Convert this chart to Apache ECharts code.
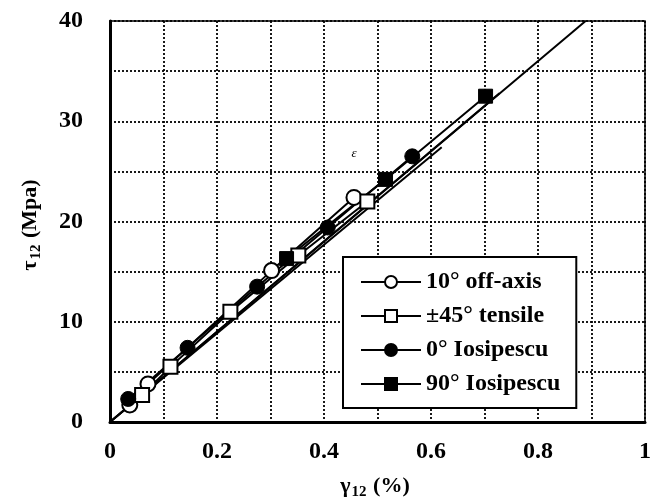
<!DOCTYPE html>
<html><head><meta charset="utf-8">
<script src="https://cdn.jsdelivr.net/npm/echarts@6/dist/echarts.min.js"></script>
<style>html,body{margin:0;padding:0;background:#fff}#c{width:654px;height:499px}</style>
</head><body><div id="c"></div>
<script>
const seriesNames = ['10° off-axis', '±45° tensile', '0° Iosipescu', '90° Iosipescu'];
const offAxisX = [0.037, 0.071, 0.302, 0.456];
const offAxisY = [1.7, 3.8, 15.1, 22.4];
const tensileX = [0.06, 0.113, 0.225, 0.352, 0.481];
const tensileY = [2.7, 5.5, 11.0, 16.6, 22.0];
const iosi0X = [0.034, 0.145, 0.275, 0.407, 0.565];
const iosi0Y = [2.3, 7.4, 13.5, 19.4, 26.5];
const iosi90X = [0.33, 0.515, 0.702];
const iosi90Y = [16.3, 24.2, 32.5];
// straight fit lines from the origin to these end points
const fitEndX = [0.62, 0.728, 0.889];
const fitEndY = [27.4, 32.8, 40];
const xAxisTitle = {sym: 'γ', sub: '12', rest: ' (%)'};
const yAxisTitle = {sym: 'τ', sub: '12', rest: ' (Mpa)'};

const SERIF = 'Liberation Serif';
function pts(xs, ys) { return xs.map((x, i) => [x, ys[i]]); }

const chart = echarts.init(document.getElementById('c'), null, {renderer: 'canvas'});

const fitSeries = fitEndX.map((x, i) => ({
  type: 'line', data: [[0, 0], [x, fitEndY[i]]], showSymbol: false, silent: true,
  lineStyle: {color: '#000', width: 2}, z: 2
}));

function mkSeries(name, xs, ys, symbol, size, filled) {
  return {
    name: name, type: 'line', data: pts(xs, ys), symbol: symbol, symbolSize: size,
    showSymbol: true,
    lineStyle: {color: '#000', width: 2},
    itemStyle: filled ? {color: '#000', borderColor: '#000', borderWidth: 1}
                      : {color: '#fff', borderColor: '#000', borderWidth: 2},
    z: 3
  };
}

const option = {
  animation: false,
  backgroundColor: '#fff',
  grid: {left: 110, right: 4, top: 21, bottom: 77, show: true, borderColor: '#000', borderWidth: 1.5},
  xAxis: {
    type: 'value', min: 0, max: 1, interval: 0.1,
    axisLine: {show: true, lineStyle: {color: '#000', width: 3}},
    axisTick: {show: false},
    splitLine: {show: true, lineStyle: {type: [2, 2], color: '#000', width: 1.8}},
    axisLabel: {
      formatter: v => (Math.round(v * 10) % 2 === 0 ? String(+v.toFixed(1)) : ''),
      fontFamily: SERIF, fontWeight: 'bold', fontSize: 24, color: '#000', margin: 18
    }
  },
  yAxis: {
    type: 'value', min: 0, max: 40, interval: 5,
    axisLine: {show: true, lineStyle: {color: '#000', width: 3}},
    axisTick: {show: false},
    splitLine: {show: true, lineStyle: {type: [2, 2], color: '#000', width: 1.8}},
    axisLabel: {
      formatter: v => (Math.round(v) % 10 === 0 ? String(Math.round(v)) : ''),
      fontFamily: SERIF, fontWeight: 'bold', fontSize: 24, color: '#000', margin: 27
    }
  },
  legend: {
    data: seriesNames, orient: 'vertical', left: 343, top: 257,
    itemWidth: 60, itemHeight: 15, itemGap: 10,
    padding: [13, 16, 12, 17],
    borderColor: '#000', borderWidth: 2, backgroundColor: '#fff',
    textStyle: {fontFamily: SERIF, fontWeight: 'bold', fontSize: 24, color: '#000'}
  },
  series: fitSeries.concat([
    mkSeries(seriesNames[0], offAxisX, offAxisY, 'circle', 15, false),
    mkSeries(seriesNames[1], tensileX, tensileY, 'rect', 14, false),
    mkSeries(seriesNames[2], iosi0X, iosi0Y, 'circle', 15, true),
    mkSeries(seriesNames[3], iosi90X, iosi90Y, 'rect', 14, true)
  ]),
  graphic: [
    {
      type: 'text', x: 30, y: 225, rotation: Math.PI / 2,
      style: {
        text: '{a|' + yAxisTitle.sym + '}{s|' + yAxisTitle.sub + '}{a|' + yAxisTitle.rest + '}',
        align: 'center', verticalAlign: 'middle',
        rich: {
          a: {fontFamily: SERIF, fontWeight: 'bold', fontSize: 22, fill: '#000'},
          s: {fontFamily: SERIF, fontWeight: 'bold', fontSize: 15, fill: '#000', padding: [12, 1, 0, 1]}
        }
      }
    },
    {
      type: 'text', x: 375, y: 486,
      style: {
        text: '{a|' + xAxisTitle.sym + '}{s|' + xAxisTitle.sub + '}{a|' + xAxisTitle.rest + '}',
        align: 'center', verticalAlign: 'middle',
        rich: {
          a: {fontFamily: SERIF, fontWeight: 'bold', fontSize: 22, fill: '#000'},
          s: {fontFamily: SERIF, fontWeight: 'bold', fontSize: 15, fill: '#000', padding: [12, 1, 0, 1]}
        }
      }
    },
    {
      type: 'text', x: 354, y: 154,
      style: {text: 'ε', fontFamily: SERIF, fontStyle: 'italic', fontSize: 13, fill: '#000', align: 'center', verticalAlign: 'middle'}
    }
  ]
};
chart.setOption(option);
</script>
</body></html>
